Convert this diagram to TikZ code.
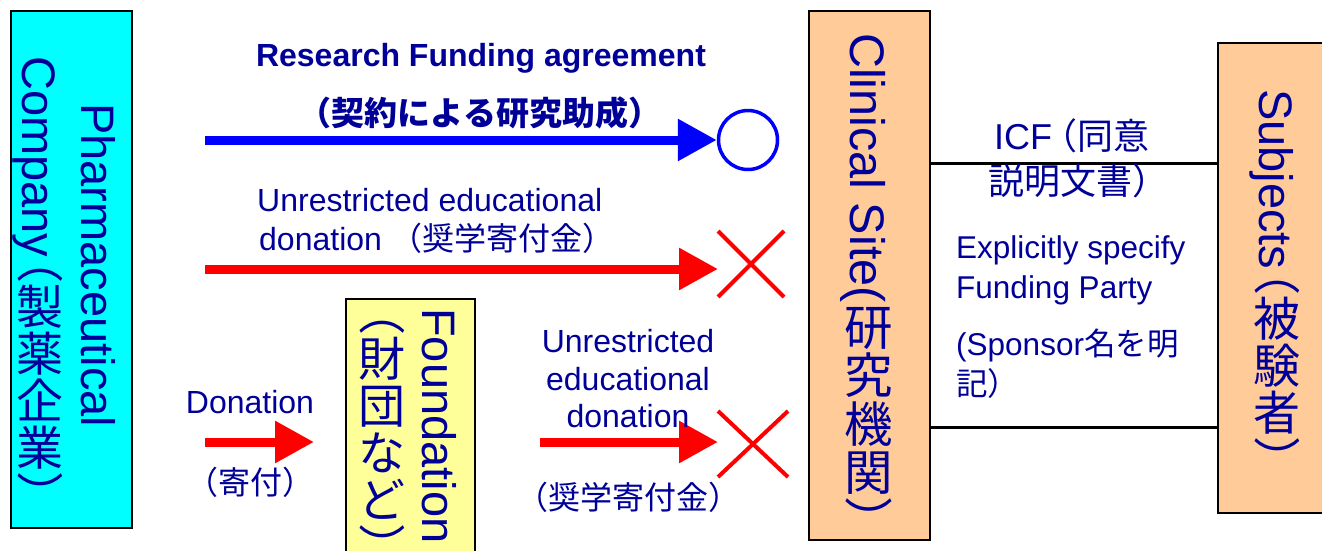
\documentclass[tikz,border=0pt]{standalone}
\usepackage{fontspec}
\setmainfont{Liberation Sans}
\newfontfamily\cjk{Noto Sans CJK JP}
\usetikzlibrary{arrows.meta,shapes.misc}
\definecolor{navy}{RGB}{0,0,153}
\definecolor{peach}{RGB}{255,204,153}
\definecolor{paleyellow}{RGB}{255,255,153}
\definecolor{aqua}{RGB}{0,255,255}
\definecolor{pblue}{RGB}{0,0,255}
\definecolor{pred}{RGB}{255,0,0}
\newcommand\up[1]{\rotatebox[origin=c]{90}{\raisebox{0pt}[0.88em][0.12em]{\cjk #1}}}
\newcommand\lp{{\cjk\kern-0.45em（}}
\newcommand\hlp{{\cjk\kern-0.3em（}}
\newcommand\rp{{\cjk ）}}
\newcommand\fs[1]{\fontsize{#1}{#1}\selectfont}
\begin{document}
\begin{tikzpicture}[x=1pt,y=-1pt,
  box/.style={draw=black, line width=2pt, inner sep=0pt, anchor=north west},
  vlabel/.style={rotate=-90, anchor=base west, inner sep=0pt, text=navy},
  hlabel/.style={inner sep=0pt, text=navy},
  flow/.style={line width=9pt, -{Triangle[length=39pt,width=40pt]}},
  xmark/.style={cross out, draw=pred, line width=4pt, inner sep=0pt},
  link/.style={draw=black, line width=3pt}]
\useasboundingbox (0,0) rectangle (1322,550);
\fill[white] (0,0) rectangle (1322,550);
\clip (0,0) rectangle (1322,550);
% boxes
\node[box, fill=aqua, minimum width=121pt, minimum height=517pt] (pharma) at (10,10) {};
\node[box, fill=paleyellow, minimum width=129pt, minimum height=270pt] (found) at (345,298) {};
\node[box, fill=peach, minimum width=121pt, minimum height=529pt] (clin) at (808,10) {};
\node[box, fill=peach, minimum width=125pt, minimum height=470pt] (subj) at (1217,42) {};
% vertical labels
\node[vlabel, font=\fs{47}] (pharmaA) at (81,103) {Pharmaceutical};
\node[vlabel, font=\fs{47}] (pharmaB) at (22,56) {Company\lp\up{製}\up{薬}\up{企}\up{業}\rp};
\node[vlabel, font=\fs{47}] (foundA) at (422,308) {Foundation};
\node[vlabel, font=\fs{47}] (foundB) at (364,309) {\lp\up{財}\up{団}\up{な}\up{ど}\rp};
\node[vlabel, font=\fs{48.5}] (clinT) at (850,33) {Clinical Site(\up{研}\up{究}\up{機}\up{関}\rp};
\node[vlabel, font=\fs{47}] (subjT) at (1259,89) {Subjects\lp\up{被}\up{験}\up{者}\rp};
% end marks
\node[circle, draw=pblue, line width=3.5pt, minimum size=59pt, inner sep=0pt] (ok) at (748,140) {};
\node[xmark, minimum width=62pt, minimum height=62pt] (ng1) at (751,264) {};
\node[xmark, minimum width=66pt, minimum height=62pt] (ng2) at (753,444) {};
% arrows
\coordinate (a1s) at (205,140);
\coordinate (a2s) at (205,269);
\coordinate (a3s) at (205,442);
\coordinate (a3e) at (314,442);
\coordinate (a4s) at (540,442);
\draw[flow, pblue] (a1s) -- (ok.west);
\draw[flow, pred] (a2s) -- (a2s -| ng1.west);
\draw[flow, pred] (a3s) -- (a3e);
\draw[flow, pred] (a4s) -- (a4s -| ng2.west);
% links between site and subjects
\draw[link] (clin.east |- 0,163) -- (subj.west |- 0,163);
\draw[link] (clin.east |- 0,427) -- (subj.west |- 0,427);
% horizontal labels
\node[hlabel, font=\fs{32}\bfseries, anchor=base] (rfa) at (481,66) {Research Funding agreement};
\node[hlabel, font=\fs{33}\cjk\bfseries, anchor=base] (rfaj) at (480,125) {（契約による研究助成）};
\node[hlabel, font=\fs{32}, anchor=base west] (ued1) at (257,211) {Unrestricted educational};
\node[hlabel, font=\fs{32}, anchor=base west] (ued2) at (259,250) {donation {\cjk（奨学寄付金）}};
\node[hlabel, font=\fs{32}, anchor=base] (don) at (250,413) {Donation};
\node[hlabel, font=\fs{32}\cjk, anchor=base] (donj) at (250,494) {（寄付）};
\node[hlabel, font=\fs{32}, anchor=base] (ued3) at (628,352) {Unrestricted};
\node[hlabel, font=\fs{32}, anchor=base] (ued4) at (628,390) {educational};
\node[hlabel, font=\fs{32}, anchor=base] (ued5) at (628,427) {donation};
\node[hlabel, font=\fs{32}\cjk, anchor=base] (ued6) at (628,509) {（奨学寄付金）};
\node[hlabel, font=\fs{36}, anchor=base west] (icf1) at (994,149) {ICF\hlp{\cjk 同意}};
\node[hlabel, font=\fs{36}\cjk, anchor=base west] (icf2) at (988,194) {説明文書）};
\node[hlabel, font=\fs{31.5}, anchor=base west] (exp1) at (956,258) {Explicitly specify};
\node[hlabel, font=\fs{31.5}, anchor=base west] (exp2) at (956,298) {Funding Party};
\node[hlabel, font=\fs{31.5}, anchor=base west] (exp3) at (956,355) {(Sponsor{\cjk 名を明}};
\node[hlabel, font=\fs{31.5}\cjk, anchor=base west] (exp4) at (956,395) {記）};
\end{tikzpicture}
\end{document}
